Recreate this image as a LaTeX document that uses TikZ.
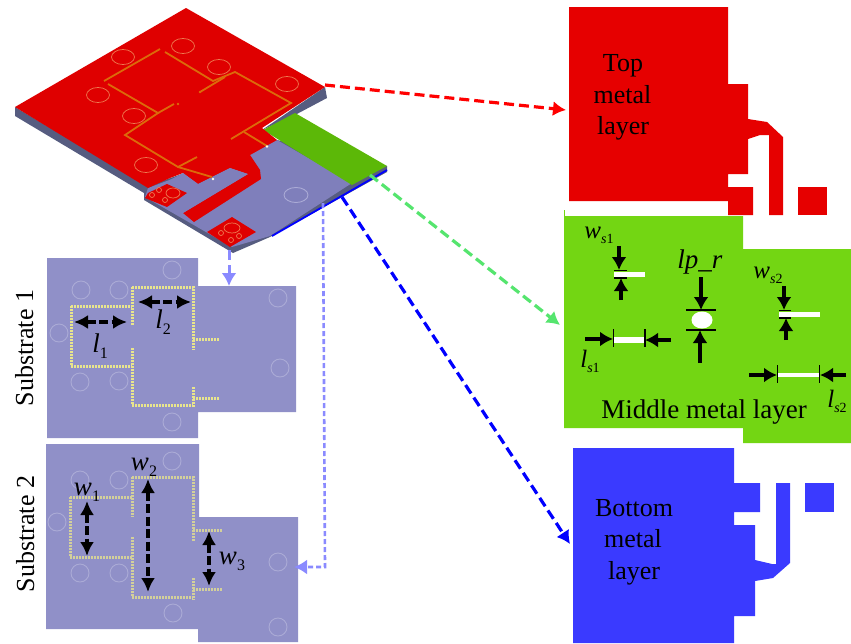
\documentclass[tikz,border=0pt]{standalone}
\usepackage{fontspec}
\setmainfont{Liberation Serif}
\usetikzlibrary{arrows.meta}
\definecolor{topred}{HTML}{E60000}
\definecolor{isored}{HTML}{DF0000}
\definecolor{midgreen}{HTML}{73D613}
\definecolor{isogreen}{HTML}{5CB808}
\definecolor{botblue}{HTML}{3A3AFF}
\definecolor{subst}{HTML}{9090C8}
\definecolor{isosub}{HTML}{7F7FBB}
\definecolor{sidec}{HTML}{565C80}
\definecolor{dotc}{HTML}{E9E58C}
\definecolor{viac}{HTML}{ABABD6}
\definecolor{lightarrow}{HTML}{8A8AFF}
\definecolor{greenarrow}{HTML}{55E56E}
\definecolor{isoline}{HTML}{DC6A0A}
\definecolor{isocirc}{HTML}{EE7A50}
\newcommand{\sublab}[2]{\textit{#1}\raisebox{-.5ex}{\fontsize{16}{16}\selectfont #2}}
\newcommand{\smlab}[3]{\textit{#1}\raisebox{-.5ex}{\fontsize{14}{14}\selectfont\textit{#2}#3}}
\tikzset{
  layerlabel/.style={font=\fontsize{26}{26}\selectfont,inner sep=0pt,text=black,anchor=base},
  sublabel/.style={font=\fontsize{26}{26}\selectfont,inner sep=0pt,rotate=90,anchor=base},
  dimlabel/.style={font=\fontsize{27}{27}\selectfont,inner sep=0pt,anchor=base},
  smalldim/.style={font=\fontsize{25}{25}\selectfont,inner sep=0pt,anchor=base},
  linkarrow/.style={line width=3.2pt,dash pattern=on 10pt off 5pt,-{Latex[length=13pt,width=15pt]}},
  dimboth/.style={line width=3.4pt,dash pattern=on 9pt off 3.5pt,{Latex[length=14pt,width=14pt]}-{Latex[length=14pt,width=14pt]}},
  diminto/.style={line width=3.2pt,-{Latex[length=13pt,width=15pt]}},
  dimtick/.style={line width=1.2pt,black},
  slot/.style={fill=white,draw=none},
  dots/.style={line width=3pt,dash pattern=on 1.5pt off 1.5pt,dotc},
  isodots/.style={line width=1.8pt,isoline},
  via/.style={draw=viac,line width=.9pt},
  isovia/.style={draw=isocirc,line width=.7pt},
}
\begin{document}
\begin{tikzpicture}[x=1pt,y=-1pt]
\useasboundingbox (0,0) rectangle (851,643);
\fill[white] (0,0) rectangle (851,643);

% ---- isometric view
\fill[sidec] (15,107) -- (15,116) -- (144,193) -- (144,200) -- (233,253) -- (270,237) -- (387,172) -- (387,166) -- (277,140) -- (148,186) -- cycle;
\fill[sidec] (325,87) -- (327,98) -- (295,115) -- (262,130) -- cycle;
\fill[isosub] (277,140) -- (352,183) -- (270,236) -- (232,247) -- (145,197) -- (148,188) -- (250,150) -- cycle;
\fill[isogreen] (295,113) -- (387,166) -- (352,185) -- (263,130) -- cycle;
\fill[isored] (186,8) -- (325,87) -- (262,128) -- (277,140) -- (250,155) -- (260,170) -- (261,179) -- (194,222) -- (183,213) -- (248,174) -- (230,168) -- (198,184) -- (183,173) -- (170,178) -- (148,188) -- (15,107) -- cycle;
\fill[isosub] (170,180) -- (183,173) -- (198,184) -- (230,168) -- (248,174) -- (183,213) -- (167,207) -- (188,193) -- cycle;
\fill[isored] (148,193) -- (167,184) -- (187,193) -- (167,207) -- (145,198) -- cycle;
\fill[isored] (207,232) -- (232,217) -- (256,232) -- (230,247) -- cycle;
\foreach \cx/\cy in {123/57,183/46,219/67,287/84,98/95,134/116,146/165}
  \draw[isovia] (\cx,\cy) ellipse (11.5 and 7.5);
\draw[isovia] (173,193) ellipse (7 and 5);
\draw[isovia] (159,190) circle (2.5);
\draw[isovia] (152,195) circle (2.5);
\draw[isovia] (165,200) circle (2.5);
\draw[isovia] (232,228) ellipse (8 and 5);
\draw[isovia] (221,233) circle (2.5);
\draw[isovia] (231,240) circle (2.5);
\draw[isovia] (239,236) circle (2.5);
\draw[via] (296,195) ellipse (12 and 7.5);
\draw[isodots] (160,49) -- (104,81) (165,52) -- (213,81) -- (235,72) -- (291,103) -- (231,139);
\draw[isodots] (108,84) -- (158,113) -- (125,135) -- (178,167) -- (212,177);
\draw[isodots] (200,92) -- (225,77) (158,113) -- (174,104);
\draw[isodots] (244,132) -- (267,146) (178,167) -- (197,157);
\fill[isoline] (178,104) circle (1.4) (200,92) circle (1.4);
\fill[white!90!yellow] (267,146.5) circle (1.4) (213,179) circle (1.4);
\draw[blue,line width=1.8pt] (272,236) -- (387,170);

% ---- substrates
\fill[subst] (47,258) -- (198,258) -- (198,286) -- (296,286) -- (296,412) -- (198,412) -- (198,438) -- (47,438) -- cycle;
\fill[subst] (46,444) -- (199,444) -- (199,517) -- (298,517) -- (298,642) -- (198,642) -- (198,629) -- (46,629) -- cycle;
\foreach \cx/\cy in {81/290,119/290,172/270,59/333,80/382,119/381,172/422,280/368,278/298}
  \draw[via] (\cx,\cy) circle (9);
\foreach \cx/\cy in {80/480,119/480,172/461,57/522,80/573,119/573,173/613,278/562,278/627}
  \draw[via] (\cx,\cy) circle (9);
\draw[dots] (132,287) -- (193,287) -- (193,350) (193,339) -- (220,339);
\draw[dots] (132,287) -- (132,325) (71,306) -- (132,306);
\draw[dots] (71,306) -- (71,366) -- (132,366);
\draw[dots] (132,348) -- (132,405) -- (193,405) (193,387) -- (193,408) (193,398) -- (220,398);
\draw[dots,dotc!75!subst] (132,477) -- (193,477) -- (193,542) (193,530) -- (222,530);
\draw[dots,dotc!75!subst] (132,477) -- (132,517) (70,497) -- (132,497);
\draw[dots,dotc!75!subst] (70,497) -- (70,557) -- (132,557);
\draw[dots,dotc!75!subst] (132,537) -- (132,597) -- (193,597) (193,578) -- (193,600) (193,589) -- (222,589);

\coordinate (l1a) at (74,322); \coordinate (l1b) at (127,322);
\coordinate (l2a) at (138,302); \coordinate (l2b) at (191,302);
\coordinate (w1a) at (87,501); \coordinate (w1b) at (87,556);
\coordinate (w2a) at (148,479); \coordinate (w2b) at (148,592);
\coordinate (w3a) at (209,531); \coordinate (w3b) at (209,586);
\draw[dimboth] (l1a) -- (l1b);
\draw[dimboth] (l2a) -- (l2b);
\draw[dimboth] (w1a) -- (w1b);
\draw[dimboth] (w2a) -- (w2b);
\draw[dimboth] (w3a) -- (w3b);
\node[dimlabel] (tl1) at (100,352) {\sublab{l}{1}};
\node[dimlabel] (tl2) at (163,328) {\sublab{l}{2}};
\node[dimlabel] (tw1) at (87,495) {\sublab{w}{1}};
\node[dimlabel] (tw2) at (144,470) {\sublab{w}{2}};
\node[dimlabel] (tw3) at (232,564) {\sublab{w}{3}};
\node[sublabel] (sub1) at (33,348) {Substrate 1};
\node[sublabel] (sub2) at (34,534) {Substrate 2};

% ---- top metal
\fill[topred] (569,7) -- (728,7) -- (728,84) -- (748,84) -- (748,119) -- (767,122) -- (783,137) -- (783,215) -- (769,215) -- (769,135) -- (760,135) -- (748,139) -- (748,174) -- (728,174) -- (728,187) -- (753,187) -- (753,215) -- (728,215) -- (728,201) -- (569,201) -- cycle;
\fill[topred] (798,187) rectangle (827,215);
\node[layerlabel] (top1) at (623,71) {Top};
\node[layerlabel] (top2) at (622.5,103) {metal};
\node[layerlabel] (top3) at (623,134) {layer};

% ---- middle metal
\fill[midgreen] (564,210) rectangle (565,216);
\fill[midgreen] (564,216) -- (743,216) -- (743,249) -- (851,249) -- (851,443) -- (743,443) -- (743,428) -- (564,428) -- cycle;
\fill[slot] (614,272) rectangle (645,277);
\fill[slot] (614,337) rectangle (645,343);
\fill[slot] (779,312) rectangle (820,317);
\fill[slot] (778,373) rectangle (819,377);
\fill[slot] (702,320) ellipse (10.5 and 8.5);
\draw[dimtick] (614,270.5) -- (627,270.5) (614,278) -- (627,278);
\draw[dimtick] (613.5,329) -- (613.5,347) (645,329) -- (645,347);
\draw[dimtick] (686,310) -- (716,310) (686,330) -- (716,330);
\draw[dimtick] (779,310.5) -- (791,310.5) (779,318) -- (791,318);
\draw[dimtick] (777.5,365) -- (777.5,383) (819.5,365) -- (819.5,383);
\coordinate (a1) at (619,246); \coordinate (a1e) at (619,270);
\coordinate (a2) at (621,300); \coordinate (a2e) at (621,278);
\coordinate (a3) at (585,339); \coordinate (a3e) at (613,339);
\coordinate (a4) at (671,340); \coordinate (a4e) at (645,340);
\coordinate (a5) at (701,277); \coordinate (a5e) at (701,310);
\coordinate (a6) at (700,363); \coordinate (a6e) at (700,330);
\coordinate (a7) at (784,286); \coordinate (a7e) at (784,310);
\coordinate (a8) at (786,340); \coordinate (a8e) at (786,318);
\coordinate (a9) at (749,375); \coordinate (a9e) at (777,375);
\coordinate (a10) at (846,375); \coordinate (a10e) at (820,375);
\foreach \p/\q in {a1/a1e,a2/a2e,a3/a3e,a4/a4e,a5/a5e,a6/a6e,a7/a7e,a8/a8e,a9/a9e,a10/a10e}
  \draw[diminto] (\p) -- (\q);
\node[smalldim] (tws1) at (599,238) {\smlab{w}{s}{1}};
\node[dimlabel] (tlp) at (700,268) {\textit{lp\_r}};
\node[smalldim] (tws2) at (768,278) {\smlab{w}{s}{2}};
\node[smalldim] (tls1) at (590,367) {\smlab{l}{s}{1}};
\node[smalldim] (tls2) at (837,407) {\smlab{l}{s}{2}};
\node[layerlabel,font=\fontsize{27}{27}\selectfont] (midt) at (704,418) {Middle metal layer};

% ---- bottom metal
\fill[botblue] (573,448) -- (734,448) -- (734,483) -- (760,483) -- (760,512) -- (734,512) -- (734,525) -- (755,525) -- (755,560) -- (772,564) -- (776,564) -- (776,483) -- (790,483) -- (790,563) -- (773,578) -- (755,581) -- (755,616) -- (734,616) -- (734,643) -- (573,643) -- cycle;
\fill[botblue] (805,483) rectangle (834,512);
\node[layerlabel] (bot1) at (634,516) {Bottom};
\node[layerlabel] (bot2) at (633,547) {metal};
\node[layerlabel] (bot3) at (634,579) {layer};

% ---- connectors
\coordinate (redS) at (325,85); \coordinate (redE) at (566,110);
\coordinate (grnS) at (370,175); \coordinate (grnE) at (560,325);
\coordinate (bluS) at (342,197); \coordinate (bluE) at (570,544);
\coordinate (lbaS) at (229,250); \coordinate (lbaE) at (229,286);
\coordinate (lbbS) at (323,203); \coordinate (lbbC) at (325,567); \coordinate (lbbE) at (294,567);
\draw[linkarrow,red] (redS) -- (redE);
\draw[linkarrow,greenarrow] (grnS) -- (grnE);
\draw[linkarrow,blue] (bluS) -- (bluE);
\draw[linkarrow,lightarrow,line width=3pt] (lbaS) -- (lbaE);
\draw[linkarrow,lightarrow,line width=2.6pt,dash pattern=on 5pt off 3pt] (lbbS) -- (lbbC) -- (lbbE);
\end{tikzpicture}
\end{document}
